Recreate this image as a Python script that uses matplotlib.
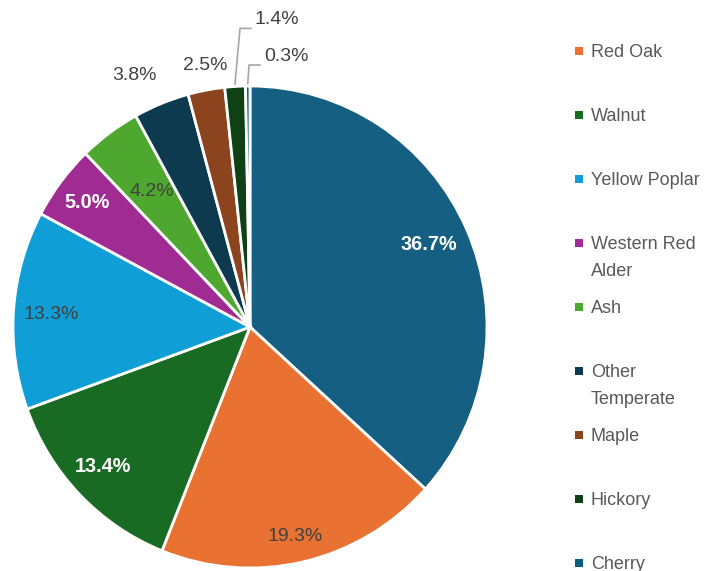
import textwrap
import numpy as np
import matplotlib
matplotlib.use('Agg')
import matplotlib.pyplot as plt
from matplotlib.patches import Rectangle

# data
species = ['White Oak', 'Red Oak', 'Walnut', 'Yellow Poplar', 'Western Red Alder',
           'Ash', 'Other Temperate', 'Maple', 'Hickory', 'Cherry']
shares = [36.7, 19.3, 13.4, 13.3, 5.0, 4.2, 3.8, 2.5, 1.4, 0.3]
colors = ['#156082', '#E97132', '#196B24', '#0F9ED5', '#A02B93',
          '#4EA72E', '#0D3A4E', '#8C441E', '#0F4016', '#095F80']

# label placement: radius (fraction of pie radius) and angle shift from slice middle
label_r = [0.83, 0.89, 0.85, 0.84, 0.86, 0.70, 1.15, 1.10, None, None]
label_dang = [0.5, -0.5, -1.0, 0.4, 0.0, 0.0, 3.0, -0.7, 0, 0]
white_bold = [True, False, True, False, True, False, False, False, False, False]
# labels with leader lines: text anchor (left edge, centre) in pie units
leader_text = {8: (0.021, 1.274), 9: (0.059, 1.122)}

W, H = 711, 571
CX, CY = 250, 327      # pie centre in px (from top-left)
RX, RY = 237, 241      # pie radius in px

plt.rcParams['font.family'] = ['Liberation Sans', 'DejaVu Sans']

fig = plt.figure(figsize=(W / 100, H / 100), dpi=100)
ax = fig.add_axes([0, 0, 1, 1])
wedges, _ = ax.pie(shares, colors=colors, startangle=90, counterclock=False, radius=1,
                   wedgeprops=dict(edgecolor='white', linewidth=2))
ax.set_aspect('auto')
ax.set_xlim(-CX / RX, (W - CX) / RX)
ax.set_ylim(-(H - CY) / RY, CY / RY)
ax.axis('off')

# data labels
for i, w in enumerate(wedges):
    txt = '%.1f%%' % shares[i]
    mid = np.deg2rad((w.theta1 + w.theta2) / 2)
    if i in leader_text:
        tx, ty = leader_text[i]
        sx, sy = 1.01 * np.cos(mid), 1.01 * np.sin(mid)
        ex, ey = tx - 0.063, ty - 0.035
        ax.plot([sx, ex, tx - 0.017], [sy, ey, ey], color='#A6A6A6', lw=1.2,
                solid_joinstyle='miter')
        ax.text(tx, ty, txt, ha='left', va='center', fontsize=14, color='#404040')
        continue
    a = mid + np.deg2rad(label_dang[i])
    x, y = label_r[i] * np.cos(a), label_r[i] * np.sin(a)
    if white_bold[i]:
        ax.text(x, y, txt, ha='center', va='center', fontsize=14.3, color='white',
                fontweight='bold')
    else:
        ax.text(x, y, txt, ha='center', va='center', fontsize=14, color='#404040')

# legend (first entry sits above the visible area)
lax = fig.add_axes([0, 0, 1, 1])
lax.set_xlim(0, W)
lax.set_ylim(H, 0)
lax.axis('off')
for k, i in enumerate(range(1, len(species))):
    ym = 51 + 64 * k
    lax.add_patch(Rectangle((575, ym - 4), 8, 8, color=colors[i], lw=0))
    for j, line in enumerate(textwrap.wrap(species[i], 13)):
        lax.text(591, ym + 6 + 27 * j, line, ha='left', va='baseline',
                 fontsize=13, color='#595959')

fig.savefig('out.png', dpi=100)
